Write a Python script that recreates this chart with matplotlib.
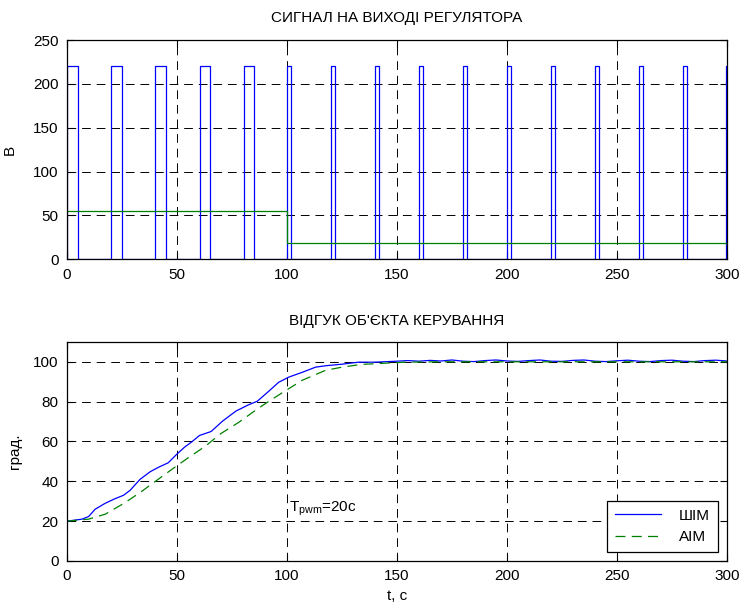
import numpy as np
import matplotlib
matplotlib.use("Agg")
import matplotlib.pyplot as plt

plt.rcParams['font.family'] = ['Liberation Sans', 'DejaVu Sans']
plt.rcParams['mathtext.fontset'] = 'custom'
plt.rcParams['mathtext.rm'] = 'Liberation Sans'

# сигнал регулятора: імпульси ШІМ (початок, кінець), амплітуда 220 В
pwm_on = [0, 20, 40.2, 60.3, 80.3, 100.2, 120.2, 140.2, 160.2, 180.2, 200.2, 220.2, 240.2, 260.2, 280.2, 299.8]
pwm_off = [4.9, 24.9, 45.1, 65.2, 85.2, 101.8, 121.8, 141.8, 161.8, 181.8, 201.8, 221.8, 241.8, 261.8, 281.8, 300]
pwm_amp = 220
# АІМ: рівень сигналу
aim_t = [0, 100, 100, 300]
aim_u = [54.5, 54.5, 18, 18]

# відгук об'єкта
shim_t = [0, 6.8, 9.8, 12.8, 17.4, 21.9, 25.7, 28.7, 33.2, 37.8, 41.5, 46, 49.8, 53.6, 56.6,
          60.2, 65.5, 70.7, 76.7, 82.7, 86.5, 91.7, 96.2, 100.8, 106.9, 113, 117.5, 125, 132.6,
          140, 150, 155, 160, 165, 170, 175, 180, 185, 190, 195, 200, 205, 210, 215, 220, 225,
          230, 235, 240, 245, 250, 255, 260, 265, 270, 275, 280, 285, 290, 295, 300]
shim_y = [20, 21, 22.3, 26, 29, 31.3, 33, 35.5, 41, 44.8, 47, 49.3, 53.5, 57.3, 59.7,
          63, 65, 70.2, 75.2, 78.5, 80.2, 85.2, 89.7, 92.3, 94.7, 97.3, 98, 98.8, 99.8,
          99.8, 100.3, 100.6, 100.3, 100.7, 100.4, 100.9, 100.3, 100.1, 100.6, 100.9, 100.4, 100.2, 100.6,
          100.9, 100.3, 100.2, 100.7, 100.9, 100.3, 100.1, 100.5, 100.8, 100.3, 100.1, 100.6, 100.8,
          100.3, 100.1, 100.6, 100.8, 100.4]
aim_resp_t = [0, 9.8, 17.4, 26.4, 34, 40.8, 48.3, 55.7, 62.5, 70, 78.2, 86.5, 92.5, 100.8,
              106.9, 117.5, 125, 134, 144.7, 153.8, 170, 200, 230, 260, 300]
aim_resp_y = [20, 21, 23.5, 29.3, 35, 40.5, 46.5, 52.3, 57.3, 64, 69.7, 76.3, 80.7, 86.5,
              90.7, 95.7, 97.3, 98.7, 99.3, 99.8, 100, 100, 100, 100, 100]

blue = '#0000ff'
green = '#008000'

fig = plt.figure(figsize=(7.49, 6.07), dpi=100)
ax1 = fig.add_axes([0.0895, 0.573, 0.881, 0.361])
ax2 = fig.add_axes([0.0895, 0.0758, 0.881, 0.361])

# ступінчастий сигнал ШІМ
st = [0]
su = [0]
for a, b in zip(pwm_on, pwm_off):
    st += [a, a, b, b]
    su += [0, pwm_amp, pwm_amp, 0]
ax1.plot(st, su, color=blue, lw=0.9)
ax1.plot(aim_t, aim_u, color=green, lw=0.9)
ax1.set_xlim(0, 300)
ax1.set_ylim(0, 250)
ax1.set_xticks(np.arange(0, 301, 50))
ax1.set_yticks(np.arange(0, 251, 50))
ax1.set_ylabel('В', fontsize=11, labelpad=12)
ax1.set_title('СИГНАЛ НА ВИХОДІ РЕГУЛЯТОРА', fontsize=11, pad=13)

ax2.plot(shim_t, shim_y, color=blue, lw=0.9, label='ШІМ')
ax2.plot(aim_resp_t, aim_resp_y, color=green, lw=0.9, ls=(0, (8, 5)), label='АІМ')
ax2.set_xlim(0, 300)
ax2.set_ylim(0, 110)
ax2.set_xticks(np.arange(0, 301, 50))
ax2.set_yticks(np.arange(0, 101, 20))
ax2.set_ylabel('град.', fontsize=11, labelpad=8)
ax2.set_xlabel('t, c', fontsize=11, labelpad=4)
ax2.set_title("ВІДГУК ОБ'ЄКТА КЕРУВАННЯ", fontsize=11, pad=12)
ax2.text(101, 25, r'$\mathrm{T_{pwm}}$=20c', fontsize=11)
leg = ax2.legend(loc='lower right', fontsize=11, fancybox=False, framealpha=1,
                 edgecolor='black', handlelength=3.0, handletextpad=1.2,
                 borderpad=0.5, borderaxespad=0.6)
leg.get_frame().set_linewidth(0.9)

for ax in (ax1, ax2):
    ax.grid(True, color='black', ls=(0, (9, 6)), lw=0.7)
    ax.tick_params(direction='in', top=True, right=True, length=5, labelsize=11, pad=6)
    for s in ax.spines.values():
        s.set_linewidth(0.9)

fig.savefig('out.png', dpi=100)
